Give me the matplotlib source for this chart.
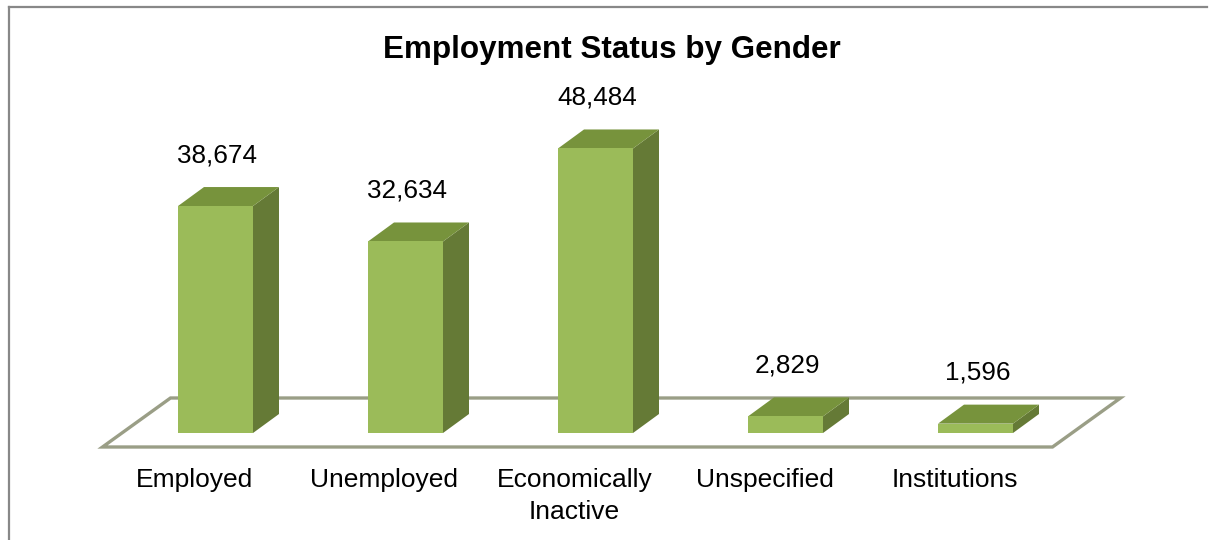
import matplotlib.pyplot as plt
from matplotlib.patches import Polygon
from matplotlib.lines import Line2D

plt.rcParams['font.family'] = ['Liberation Sans', 'DejaVu Sans']

categories = ["Employed", "Unemployed", "Economically\nInactive", "Unspecified", "Institutions"]
values = [38674, 32634, 48484, 2829, 1596]

W, H = 1210, 540
fig = plt.figure(figsize=(W / 100, H / 100), dpi=100)
ax = fig.add_axes([0, 0, 1, 1])

# layout: one category slot = 190 px, value units per pixel
slot_px = 190.0
upp = 170.4
ax.set_xlim(-215.5 / slot_px, (W - 215.5) / slot_px)
ax.set_ylim(-(H - 433) * upp, 433 * upp)
ax.axis("off")

# pseudo-3D depth offsets
bar_w = 75 / slot_px
dx = 26 / slot_px
dy = 19 * upp

front_c = "#9bbb59"
top_c = "#77933c"
side_c = "#657a36"

# floor parallelogram
f_front = -14 * upp
f_back = 35 * upp
f_shift_front = -18 / slot_px
f_shift_back = 50 / slot_px
n = len(values)
floor = Polygon([(-0.5 + f_shift_front, f_front), (n - 0.5 + f_shift_front, f_front),
                 (n - 0.5 + f_shift_back, f_back), (-0.5 + f_shift_back, f_back)],
                closed=True, facecolor="white", edgecolor="#9a9e86", lw=2.4, zorder=1)
ax.add_patch(floor)

for i, v in enumerate(values):
    x0, x1 = i - bar_w / 2, i + bar_w / 2
    front = [(x0, 0), (x1, 0), (x1, v), (x0, v)]
    side = [(x1, 0), (x1 + dx, dy), (x1 + dx, v + dy), (x1, v)]
    top = [(x0, v), (x1, v), (x1 + dx, v + dy), (x0 + dx, v + dy)]
    ax.add_patch(Polygon(side, closed=True, facecolor=side_c, edgecolor="none", zorder=3))
    ax.add_patch(Polygon(top, closed=True, facecolor=top_c, edgecolor="none", zorder=3))
    ax.add_patch(Polygon(front, closed=True, facecolor=front_c, edgecolor="none", zorder=4))
    ax.text(i + 2 / slot_px, v + dy + 32 * upp, f"{v:,}", ha="center", va="center",
            fontsize=18.8, color="black", zorder=5)
    ax.text(i + f_shift_front - 3 / slot_px, f_front - 21 * upp, categories[i],
            ha="center", va="top", fontsize=19, color="black", linespacing=1.42)

fig.text(612 / W, 1 - 50 / H, "Employment Status by Gender", ha="center", va="center",
         fontsize=22.6, fontweight="bold")

# chart frame (only top and left edges show)
fig.add_artist(Line2D([9 / W, 9 / W], [0, 1 - 7 / H], color="#888888", lw=1.6))
fig.add_artist(Line2D([9 / W, 1207 / W], [1 - 7 / H, 1 - 7 / H], color="#888888", lw=1.6))

fig.savefig("out.png", dpi=100, facecolor="white")
